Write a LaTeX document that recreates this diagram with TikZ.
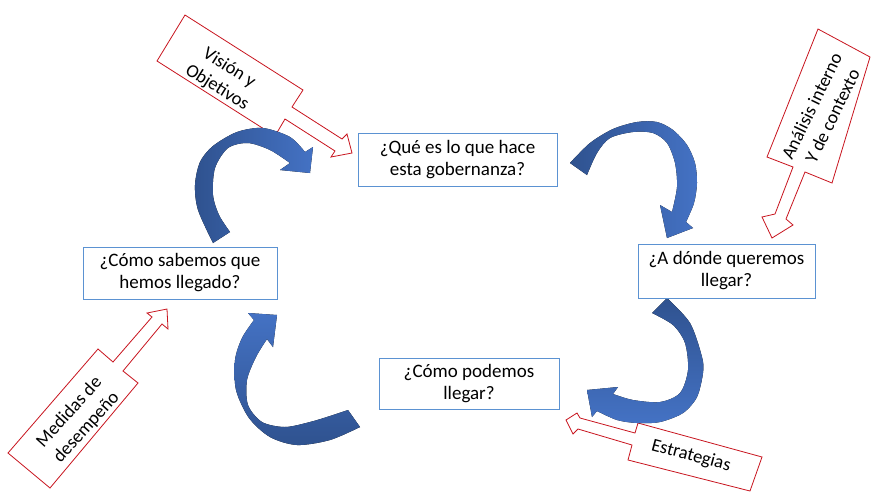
\documentclass[tikz,border=0pt]{standalone}
\usepackage{fontspec}
\setmainfont{Carlito}
\usepackage{tikz}
\usetikzlibrary{positioning, calc}
\definecolor{boxblue}{RGB}{91,146,210}
\definecolor{calloutred}{RGB}{200,20,30}
\definecolor{arrowdark}{RGB}{47,82,143}
\definecolor{arrowlight}{RGB}{68,114,196}

\begin{document}
\begin{tikzpicture}[
        x=1pt, y=-1pt,
        qbox/.style={draw=boxblue, line width=0.9pt, fill=white, align=center, minimum height=52pt, inner sep=1pt, font=\fontsize{19}{22}\selectfont},
        callout/.style={draw=calloutred, line width=0.8pt, fill=white, line join=miter},
        calltext/.style={align=center, inner sep=0pt, font=\fontsize{18.5}{23}\selectfont},
        bluearrow/.style={draw=none}
        ]

        \path[use as bounding box, fill=white] (0,0) rectangle (872,491);

        % Callouts
        \draw[callout] (185,15) -- (303,90) -- (292,107) -- (342,139) -- (347,134) -- (352,153) -- (331,157) -- (335,151) -- (285,119) -- (275,136) -- (157,61) -- cycle;
        \node[calltext, rotate=-32] (vision) at (223,78) {Visión y\\Objetivos};

        \draw[callout] (818,29) -- (870,57) -- (832,183) -- (805,172) -- (786,219) -- (793,225) -- (772,238) -- (762,217) -- (775,214) -- (793,167) -- (767,157) -- cycle;
        \node[calltext, rotate=64] (analisis) at (822,111) {Análisis interno\\Y de contexto};

        \draw[callout] (98,349) -- (113,362) -- (152,317) -- (147,313) -- (167,309) -- (168,329) -- (162,324) -- (123,371) -- (138,383) -- (50,488) -- (8,453) -- cycle;
        \node[calltext, rotate=48] (medidas) at (78,420) {Medidas de\\desempeño};

        \draw[callout] (638,423) -- (762,457) -- (750,491) -- (628,460) -- (632,445) -- (578,429) -- (573,434) -- (566,420) -- (577,413) -- (580,418) -- (635,433) -- cycle;
        \node[calltext, rotate=-15] (estrategias) at (691,456) {Estrategias};

        % Curved arrows
        \fill[bluearrow, left color=arrowdark, right color=arrowlight]
            plot[smooth] coordinates {(213,243) (198,210) (195,185) (200,162) (213,146) (237,132) (263,128) (290,137) (305,152)}
            -- (313,147) -- (310,173) -- (280,170)
            -- plot[smooth] coordinates {(290,163) (270,150) (248,143) (228,148) (215,168) (213,195) (219,215) (230,232)} -- cycle;

        \fill[bluearrow, left color=arrowdark, right color=arrowlight]
            plot[smooth] coordinates {(570,163) (590,143) (613,129) (637,122) (657,122) (673,130) (687,145) (695,163) (697,183) (694,203) (686,222)}
            -- (693,228) -- (667,238) -- (660,205)
            -- plot[smooth] coordinates {(672,212) (677,187) (675,163) (667,143) (653,133) (633,132) (610,138) (597,153) (587,175)} -- cycle;

        \fill[bluearrow, top color=arrowdark, bottom color=arrowlight]
            plot[smooth] coordinates {(667,298) (690,323) (702,357) (703,373) (697,397) (683,413) (660,422) (637,423) (617,420) (597,411)}
            -- (592,417) -- (587,390) -- (618,387)
            -- plot[smooth] coordinates {(613,394) (633,400) (660,402) (680,393) (688,370) (685,343) (673,325) (652,313)} -- cycle;

        \fill[bluearrow, bottom color=arrowdark, top color=arrowlight]
            plot[smooth] coordinates {(360,427) (330,440) (297,445) (270,437) (249,418) (236,390) (235,360) (242,338) (254,320)}
            -- (248,313) -- (277,315) -- (273,347)
            -- plot[smooth] coordinates {(267,339) (256,357) (247,380) (248,405) (262,422) (285,427) (310,422) (330,416) (348,410)} -- cycle;

        % Nodes
        \node[qbox, minimum width=199pt, minimum height=53pt] (gobernanza) at (457.5,159.5) {¿Qué es lo que hace\\esta gobernanza?};
        \node[qbox, minimum width=177pt, minimum height=54pt] (donde) at (726.5,271) {¿A dónde queremos\\llegar?};
        \node[qbox, minimum width=180pt, minimum height=51pt] (como) at (469,383.5) {¿Cómo podemos\\llegar?};
        \node[qbox, minimum width=194pt, minimum height=52pt] (sabemos) at (180,273) {¿Cómo sabemos que\\hemos llegado?};

\end{tikzpicture}
\end{document}
